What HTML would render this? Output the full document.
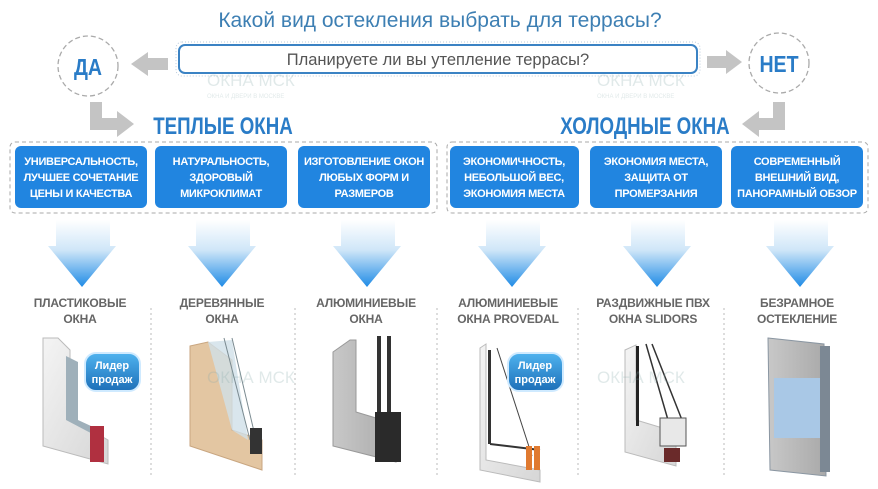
<!DOCTYPE html>
<html><head><meta charset="utf-8"><style>
html,body{margin:0;padding:0;background:#fff;}
body{width:878px;height:484px;overflow:hidden;}
svg text{font-family:"Liberation Sans",sans-serif;}
.b{font-weight:bold;fill:#fff;font-size:11px;letter-spacing:-0.3px;}
.l{font-weight:bold;fill:#666;font-size:12px;letter-spacing:-0.2px;}
</style></head><body>
<svg width="878" height="484" viewBox="0 0 878 484" xmlns="http://www.w3.org/2000/svg">
<defs>
<linearGradient id="ag" x1="0" y1="0" x2="0" y2="1">
<stop offset="0" stop-color="#fff"/><stop offset="0.45" stop-color="#cfe6f8"/><stop offset="1" stop-color="#1f8be6"/></linearGradient>
<linearGradient id="wg" x1="0" y1="0" x2="1" y2="1"><stop offset="0" stop-color="#f4f4f4"/><stop offset="1" stop-color="#d6d6d6"/></linearGradient>
<linearGradient id="al" x1="0" y1="0" x2="1" y2="0"><stop offset="0" stop-color="#c8c8c8"/><stop offset="1" stop-color="#a9a9a9"/></linearGradient>
<linearGradient id="lb" x1="0" y1="0" x2="0" y2="1"><stop offset="0" stop-color="#4fb3ef"/><stop offset="1" stop-color="#1d6fb8"/></linearGradient>
</defs>
<text x="440" y="27" text-anchor="middle" font-size="21" fill="#3d7fb3">Какой вид остекления выбрать для террасы?</text>
<rect x="176" y="42" width="524" height="34" rx="6" fill="none" stroke="#bcd" stroke-dasharray="1 2"/>
<rect x="179" y="45" width="518" height="28" rx="6" fill="#fff" stroke="#3b83c4" stroke-width="2"/>
<text x="438" y="65" text-anchor="middle" font-size="16.5" fill="#555">Планируете ли вы утепление террасы?</text>
<circle cx="88" cy="66" r="30" fill="none" stroke="#aaa" stroke-width="1.3" stroke-dasharray="5 3"/>
<text x="88" y="75" text-anchor="middle" font-size="23" font-weight="bold" fill="#2a7cc7" transform="translate(88 0) scale(0.85 1) translate(-88 0)">ДА</text>
<circle cx="779" cy="63" r="30" fill="none" stroke="#aaa" stroke-width="1.3" stroke-dasharray="5 3"/>
<text x="779" y="72" text-anchor="middle" font-size="23" font-weight="bold" fill="#2a7cc7" transform="translate(779 0) scale(0.85 1) translate(-779 0)">НЕТ</text>
<polygon points="168,58 148,58 148,52 131,64 148,76 148,70 168,70" fill="#c4c4c4"/>
<polygon points="707,56 726,56 726,50 742,62 726,74 726,68 707,68" fill="#c4c4c4"/>
<polygon points="90,102 102,102 102,118 117,118 117,111 134,124 117,137 117,130 90,130" fill="#c4c4c4"/>
<polygon points="785,102 773,102 773,118 759,118 759,111 742,124 759,137 759,130 785,130" fill="#c4c4c4"/>
<text x="223" y="134" text-anchor="middle" font-size="24" font-weight="bold" fill="#2a7cc7" transform="translate(223 0) scale(0.78 1) translate(-223 0)">ТЕПЛЫЕ ОКНА</text>
<text x="645" y="134" text-anchor="middle" font-size="24" font-weight="bold" fill="#2a7cc7" transform="translate(645 0) scale(0.78 1) translate(-645 0)">ХОЛОДНЫЕ ОКНА</text>
<rect x="10" y="142" width="427" height="71" rx="5" fill="none" stroke="#aaa" stroke-dasharray="4 3"/>
<rect x="447" y="142" width="421" height="71" rx="5" fill="none" stroke="#aaa" stroke-dasharray="4 3"/>
<g fill="#2185e0">
<rect x="15" y="146" width="132" height="62" rx="6"/><rect x="155" y="146" width="132" height="62" rx="6"/><rect x="298" y="146" width="132" height="62" rx="6"/>
<rect x="450" y="146" width="129" height="62" rx="6"/><rect x="590" y="146" width="132" height="62" rx="6"/><rect x="731" y="146" width="132" height="62" rx="6"/>
</g>
<g class="b" text-anchor="middle">
<text x="81" y="165">УНИВЕРСАЛЬНОСТЬ,</text><text x="81" y="181">ЛУЧШЕЕ СОЧЕТАНИЕ</text><text x="81" y="197">ЦЕНЫ И КАЧЕСТВА</text>
<text x="221" y="165">НАТУРАЛЬНОСТЬ,</text><text x="221" y="181">ЗДОРОВЫЙ</text><text x="221" y="197">МИКРОКЛИМАТ</text>
<text x="364" y="165">ИЗГОТОВЛЕНИЕ ОКОН</text><text x="364" y="181">ЛЮБЫХ ФОРМ И</text><text x="364" y="197">РАЗМЕРОВ</text>
<text x="514" y="165">ЭКОНОМИЧНОСТЬ,</text><text x="514" y="181">НЕБОЛЬШОЙ ВЕС,</text><text x="514" y="197">ЭКОНОМИЯ МЕСТА</text>
<text x="656" y="165">ЭКОНОМИЯ МЕСТА,</text><text x="656" y="181">ЗАЩИТА ОТ</text><text x="656" y="197">ПРОМЕРЗАНИЯ</text>
<text x="797" y="165">СОВРЕМЕННЫЙ</text><text x="797" y="181">ВНЕШНИЙ ВИД,</text><text x="797" y="197">ПАНОРАМНЫЙ ОБЗОР</text>
</g>
<g fill="url(#ag)">
<polygon points="56,220 110,220 110,246 116,246 82,287 48,246 56,246"/>
<polygon points="196,220 250,220 250,246 256,246 222,287 188,246 196,246"/>
<polygon points="341,220 395,220 395,246 401,246 367,287 333,246 341,246"/>
<polygon points="486,220 540,220 540,246 546,246 512,287 478,246 486,246"/>
<polygon points="631,220 685,220 685,246 691,246 657,287 623,246 631,246"/>
<polygon points="774,220 828,220 828,246 834,246 800,287 766,246 774,246"/>
</g>
<g class="l" text-anchor="middle">
<text x="80" y="307">ПЛАСТИКОВЫЕ</text><text x="80" y="323">ОКНА</text>
<text x="222" y="307">ДЕРЕВЯННЫЕ</text><text x="222" y="323">ОКНА</text>
<text x="366" y="307">АЛЮМИНИЕВЫЕ</text><text x="366" y="323">ОКНА</text>
<text x="508" y="307">АЛЮМИНИЕВЫЕ</text><text x="508" y="323">ОКНА PROVEDAL</text>
<text x="653" y="307">РАЗДВИЖНЫЕ ПВХ</text><text x="653" y="323">ОКНА SLIDORS</text>
<text x="797" y="307">БЕЗРАМНОЕ</text><text x="797" y="323">ОСТЕКЛЕНИЕ</text>
</g>
<g stroke="#bbb" stroke-dasharray="2 3" stroke-width="1">
<line x1="151" y1="308" x2="151" y2="478"/><line x1="295" y1="308" x2="295" y2="478"/><line x1="437" y1="308" x2="437" y2="478"/><line x1="578" y1="308" x2="578" y2="478"/><line x1="724" y1="308" x2="724" y2="478"/>
</g>
<!-- plastic -->
<polygon points="43,338 58,338 70,350 70,418 108,440 108,464 43,446" fill="url(#wg)" stroke="#bbb"/>
<polygon points="66,356 78,362 78,420 104,432 104,440 66,420" fill="#9fb0ba"/>
<rect x="90" y="426" width="14" height="36" fill="#b03040"/>
<!-- wood -->
<polygon points="190,346 208,342 232,360 232,430 262,440 262,470 190,446" fill="#e3c6a2" stroke="#c9a680"/>
<polygon points="208,342 232,340 248,440 232,430" fill="#cfe0e8" opacity=".8"/>
<line x1="224" y1="338" x2="250" y2="440" stroke="#7a8a90"/><line x1="232" y1="338" x2="256" y2="440" stroke="#7a8a90"/>
<rect x="250" y="428" width="12" height="26" fill="#333"/>
<!-- aluminium -->
<polygon points="333,352 350,340 356,340 356,412 396,424 396,462 333,446" fill="url(#al)" stroke="#999"/>
<rect x="377" y="336" width="4" height="80" fill="#333"/><rect x="387" y="336" width="4" height="80" fill="#333"/>
<rect x="375" y="412" width="26" height="50" fill="#2a2a2a"/>
<!-- provedal -->
<polygon points="480,348 486,344 486,460 540,470 540,482 480,470" fill="url(#wg)" stroke="#bbb"/>
<rect x="488" y="350" width="3" height="94" fill="#333"/><line x1="490" y1="444" x2="540" y2="450" stroke="#333" stroke-width="2"/>
<line x1="497" y1="348" x2="532" y2="456" stroke="#444"/><rect x="526" y="446" width="6" height="24" fill="#e07a30"/><rect x="534" y="446" width="6" height="24" fill="#e07a30"/>
<!-- slidors -->
<polygon points="625,350 636,345 636,420 676,432 676,466 625,452" fill="url(#wg)" stroke="#bbb"/>
<rect x="636" y="346" width="3" height="80" fill="#222"/>
<line x1="646" y1="344" x2="668" y2="420" stroke="#333" stroke-width="1.5"/><line x1="652" y1="344" x2="682" y2="420" stroke="#333" stroke-width="1.5"/>
<rect x="660" y="418" width="26" height="28" fill="#e8e8e8" stroke="#555"/><rect x="664" y="448" width="16" height="14" fill="#6a2a2a"/>
<!-- frameless -->
<polygon points="768,338 824,344 826,476 770,470" fill="url(#al)" stroke="#8a96a2"/>
<rect x="774" y="378" width="46" height="60" fill="#a9c8e6"/>
<rect x="820" y="346" width="10" height="126" fill="#7c8894"/>
<!-- badges -->
<rect x="85" y="353" width="55" height="38" rx="11" fill="url(#lb)" stroke="#cfeaff" stroke-width="2"/>
<text x="112" y="369" text-anchor="middle" font-size="11" font-weight="bold" fill="#fff">Лидер</text><text x="112" y="383" text-anchor="middle" font-size="11" font-weight="bold" fill="#fff">продаж</text>
<rect x="508" y="353" width="55" height="38" rx="11" fill="url(#lb)" stroke="#cfeaff" stroke-width="2"/>
<text x="535" y="369" text-anchor="middle" font-size="11" font-weight="bold" fill="#fff">Лидер</text><text x="535" y="383" text-anchor="middle" font-size="11" font-weight="bold" fill="#fff">продаж</text>
<!-- watermarks -->
<g opacity="0.25" fill="#8aa">
<text x="207" y="86" font-size="17">ОКНА МСК</text><text x="207" y="98" font-size="6">ОКНА И ДВЕРИ В МОСКВЕ</text>
<text x="597" y="86" font-size="17">ОКНА МСК</text><text x="597" y="98" font-size="6">ОКНА И ДВЕРИ В МОСКВЕ</text>
<text x="207" y="383" font-size="17">ОКНА МСК</text>
<text x="597" y="383" font-size="17">ОКНА МСК</text>
</g>
</svg>
</body></html>
